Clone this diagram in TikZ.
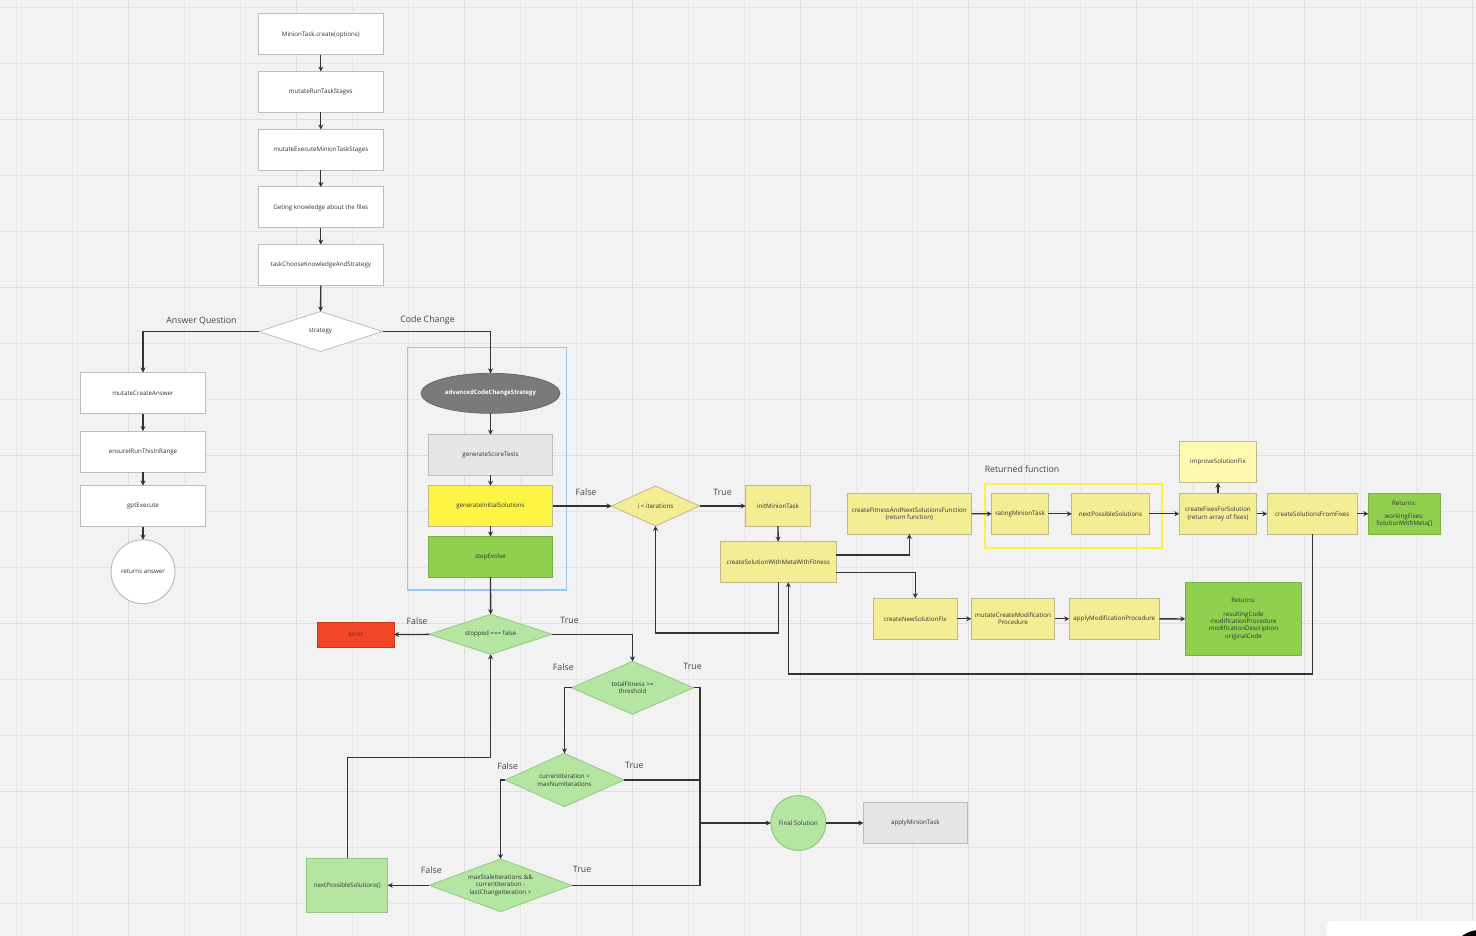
\documentclass[tikz,border=0pt]{standalone}
\usepackage{fontspec}
\setmainfont{Open Sans}
\usetikzlibrary{arrows.meta,shapes.geometric,calc}
\definecolor{bg}{HTML}{F2F2F2}
\definecolor{gridc}{HTML}{E6E6E6}
\definecolor{gridd}{HTML}{DEDEDE}
\definecolor{txt}{HTML}{333333}
\definecolor{labc}{HTML}{444444}
\definecolor{linec}{HTML}{333333}
\definecolor{bordergrey}{HTML}{BDBDBD}
\definecolor{lgrey}{HTML}{E6E6E6}
\definecolor{ellgrey}{HTML}{7A7A7A}
\definecolor{byellow}{HTML}{FEF445}
\definecolor{lyellow}{HTML}{F3ED93}
\definecolor{pyellow}{HTML}{FFF9B1}
\definecolor{ybord}{HTML}{BDB98C}
\definecolor{mgreen}{HTML}{8FD14F}
\definecolor{gbord}{HTML}{79B043}
\definecolor{lgreen}{HTML}{B4E6A2}
\definecolor{lgbord}{HTML}{93C884}
\definecolor{ered}{HTML}{F24726}
\definecolor{framec}{HTML}{94C8F2}
\definecolor{hlyellow}{HTML}{FFF23F}
\begin{document}
\begin{tikzpicture}[x=1pt,y=-1pt,
  every node/.style={inner sep=0pt, outer sep=0pt, text=txt},
  wh/.style 2 args={minimum width=#1pt, minimum height=#2pt},
  box/.style={rectangle, draw=bordergrey, line width=1pt, fill=white, align=center, font=\fontsize{6.2}{7.4}\selectfont},
  ybox/.style={box, fill=lyellow, draw=ybord},
  gbox/.style={box, fill=mgreen, draw=gbord},
  lgbox/.style={box, fill=lgreen, draw=lgbord},
  dia/.style={diamond, shape aspect=2.6, line width=0.8pt, align=center, font=\fontsize{6.2}{7.6}\selectfont},
  lab/.style={font=\fontsize{8.8}{10}\selectfont, text=labc},
  conn/.style={draw=linec, line width=1.3pt},
  arr/.style={conn, -{Stealth[length=5pt,width=5pt]}},
]
\useasboundingbox (0,0) rectangle (1476,936);
\begin{scope}
\clip (0,0) rectangle (1476,936);
\fill[bg] (0,0) rectangle (1476,936);
\foreach \i in {0,...,26} \draw[gridc, line width=0.8pt] ({16.7+56*\i},0) -- ({16.7+56*\i},936);
\foreach \j in {0,...,16} \draw[gridc, line width=0.8pt] (0,{7.3+56*\j}) -- (1476,{7.3+56*\j});
\foreach \i in {0,...,8} \draw[gridd, line width=0.8pt] ({128.3+168*\i},0) -- ({128.3+168*\i},936);
\foreach \j in {0,...,4} \draw[gridd, line width=0.8pt] (0,{119.3+168*\j}) -- (1476,{119.3+168*\j});
\fill[white, rounded corners=4pt] (1327,921) rectangle (1520,990);
\fill[black] (1480,960) circle (30pt);
\end{scope}

% frames
\draw[framec, line width=1.2pt] (407.7,347.3) rectangle (566.7,590);
\draw[hlyellow, line width=2pt] (984.7,483.7) rectangle (1162,548.3);

% top column
\node[box, wh={125}{41}] (b1) at (320.8,34.5) {MinionTask.create(options)};
\node[box, wh={125}{41}] (b2) at (320.8,92) {mutateRunTaskStages};
\node[box, wh={125}{41}] (b3) at (320.8,150) {mutateExecuteMinionTaskStages};
\node[box, wh={125}{41}] (b4) at (320.8,207.5) {Geting knowledge about the files};
\node[box, wh={125}{41}] (b5) at (320.8,265) {taskChooseKnowledgeAndStrategy};
\node[dia, fill=white, draw=bordergrey, wh={124}{40}] (strat) at (320.5,331.5) {strategy};

% left branch
\node[box, wh={124.6}{41}] (mca) at (143,393) {mutateCreateAnswer};
\node[box, wh={124.6}{41}] (eri) at (143,451.7) {ensureIRunThisInRange};
\node[box, wh={124.6}{41}] (gpt) at (143,506) {gptExecute};
\node[box, circle, minimum size=64pt] (ra) at (143,571.7) {returns answer};

% strategy column
\node[ellipse, fill=ellgrey, draw=ellgrey!85!black, line width=0.8pt, wh={139}{40}, text=white, font=\bfseries\fontsize{6}{7}\selectfont] (adv) at (490.5,393.3) {advancedCodeChangeStrategy};
\node[box, fill=lgrey, wh={124.4}{40.6}] (gst) at (490.5,455) {generateScoreTests};
\node[box, fill=byellow, draw=ybord, wh={124.4}{40.6}] (gis) at (490.5,506) {generateInitialSolutions};
\node[gbox, wh={124.4}{40.6}] (se) at (490.5,556.8) {stepEvolve};

% iteration row
\node[dia, fill=lyellow, draw=ybord, wh={88}{40}] (iter) at (655.5,506) {i < iterations};
\node[ybox, wh={64.6}{40.3}] (init) at (778,506) {initMinionTask};
\node[ybox, wh={116.3}{40.6}] (csm) at (778.2,562) {createSolutionWithMetaWithFitness};
\node[ybox, wh={124}{40.3}] (cf) at (909.3,513.9) {createFitnessAndNextSolutionsFunction\\(return function)};
\node[ybox, wh={56.6}{41}] (rate) at (1020,513.8) {ratingMinionTask};
\node[ybox, wh={77.3}{41}] (nxt) at (1110.4,513.8) {nextPossibleSolutions};
\node[ybox, wh={77.4}{41}] (fixes) at (1218,513.8) {createFixesForSolution\\(return array of fixes)};
\node[box, fill=pyellow, draw=ybord, wh={77.4}{41}] (imp) at (1218,462.2) {improveSolutionFix};
\node[ybox, wh={90}{41}] (csf) at (1312.3,513.8) {createSolutionsFromFixes};
\node[gbox, wh={71.7}{41}] (ret1) at (1404.2,513.8) {Returns:\\[6pt]workingFixes:\\SolutionWithMeta[]};
\node[ybox, wh={83.7}{41}] (nsf) at (915.2,618.8) {createNewSolutionFix};
\node[ybox, wh={83.4}{41}] (mcm) at (1013,618.8) {mutateCreateModification\\Procedure};
\node[ybox, wh={90}{41}] (amp) at (1114.3,618.8) {applyModificationProcedure};
\node[gbox, wh={116.4}{73.4}] (ret2) at (1243.5,619) {Returns:\\[6pt]resultingCode\\modificationProcedure\\modificationDescription\\originalCode};

% evolution loop
\node[dia, fill=lgreen, draw=lgbord, wh={123}{40}] (stop) at (490.7,634.3) {stopped === false};
\node[box, fill=ered, draw=ered!80!black, wh={76.7}{25}] (err) at (355.7,634.5) {error};
\node[dia, fill=lgreen, draw=lgbord, wh={122}{53}] (tf) at (632.5,687.8) {totalFitness >=\\threshold};
\node[dia, fill=lgreen, draw=lgbord, wh={119}{53.4}] (ci) at (564.5,780) {currentIteration >\\maxNumIterations};
\node[dia, fill=lgreen, draw=lgbord, wh={142.4}{52.7}] (ms) at (500.5,885.3) {maxStaleIterations \&\&\\currentIteration -\\lastChangeIteration >};
\node[lgbox, wh={81}{54}] (nps) at (347.2,885.3) {nextPossibleSolutions()};
\node[box, circle, fill=lgreen, draw=lgbord, minimum size=55pt] (fs) at (798.3,823) {Final Solution};
\node[box, fill=lgrey, wh={104}{40.6}] (apply) at (915.3,823) {applyMinionTask};
\coordinate (trunk) at (700,0);

% connectors: top column
\draw[arr] (b1) -- (b2);
\draw[arr] (b2) -- (b3);
\draw[arr] (b3) -- (b4);
\draw[arr] (b4) -- (b5);
\draw[arr] (b5) -- (strat);
\draw[arr] (strat.west) -| (mca.north);
\draw[arr] (strat.east) -| (adv.north);
\draw[arr] (mca) -- (eri);
\draw[arr] (eri) -- (gpt);
\draw[arr] (gpt) -- (ra);
\draw[arr] (adv) -- (gst);
\draw[arr] (gst) -- (gis);
\draw[arr] (gis) -- (se);
\draw[arr] (se) -- (stop);

% iteration row
\draw[arr] (gis) -- (iter);
\draw[arr] (iter) -- (init);
\draw[arr] (init) -- (csm);
\draw[arr] ([yshift=7pt]csm.east) -| (cf.south);
\draw[arr] ([yshift=-10.7pt]csm.east) -| (nsf.north);
\draw[arr] (csm.south) -- ++(0,50.7) -| (iter.south);
\draw[arr] (cf) -- (rate);
\draw[arr] (rate) -- (nxt);
\draw[arr] (nxt) -- (fixes);
\draw[arr] (fixes) -- (csf);
\draw[arr] (csf) -- (ret1);
\draw[arr] (fixes) -- (imp);
\coordinate (lp) at (788.3,674);
\draw[arr] (csf.south) |- (lp) -- (lp |- csm.south);
\draw[arr] (nsf) -- (mcm);
\draw[arr] (mcm) -- (amp);
\draw[arr] (amp) -- (ret2);

% evolution connectors
\draw[arr] (stop) -- (err);
\draw[arr] (stop.east) -| (tf.north);
\draw[arr] (tf.west) -| (ci.north);
\draw[arr] (ci.west) -| (ms.north);
\draw[arr] (ms) -- (nps);
\draw[arr] (nps.north) -- ++(0,-100.6) -| (stop.south);
\draw[conn] (tf.east) -- (tf.east -| trunk) -- (ms.east -| trunk) -- (ms.east);
\draw[conn] (ci.east) -- (ci.east -| trunk);
\draw[arr] (fs.west -| trunk) -- (fs.west);
\draw[arr] (fs) -- (apply);

% labels
\node[lab] at (201.5,320.7) {Answer Question};
\node[lab] at (427.5,320.7) {Code Change};
\node[lab] at (586,492) {False};
\node[lab] at (722.5,492) {True};
\node[lab] at (1022,469) {Returned function};
\node[lab] at (417,620.7) {False};
\node[lab] at (569.5,620.7) {True};
\node[lab] at (563.3,666.7) {False};
\node[lab] at (692.5,666.7) {True};
\node[lab] at (507.7,765.7) {False};
\node[lab] at (634.3,765.7) {True};
\node[lab] at (431.3,869.7) {False};
\node[lab] at (582,869.7) {True};
\end{tikzpicture}
\end{document}
